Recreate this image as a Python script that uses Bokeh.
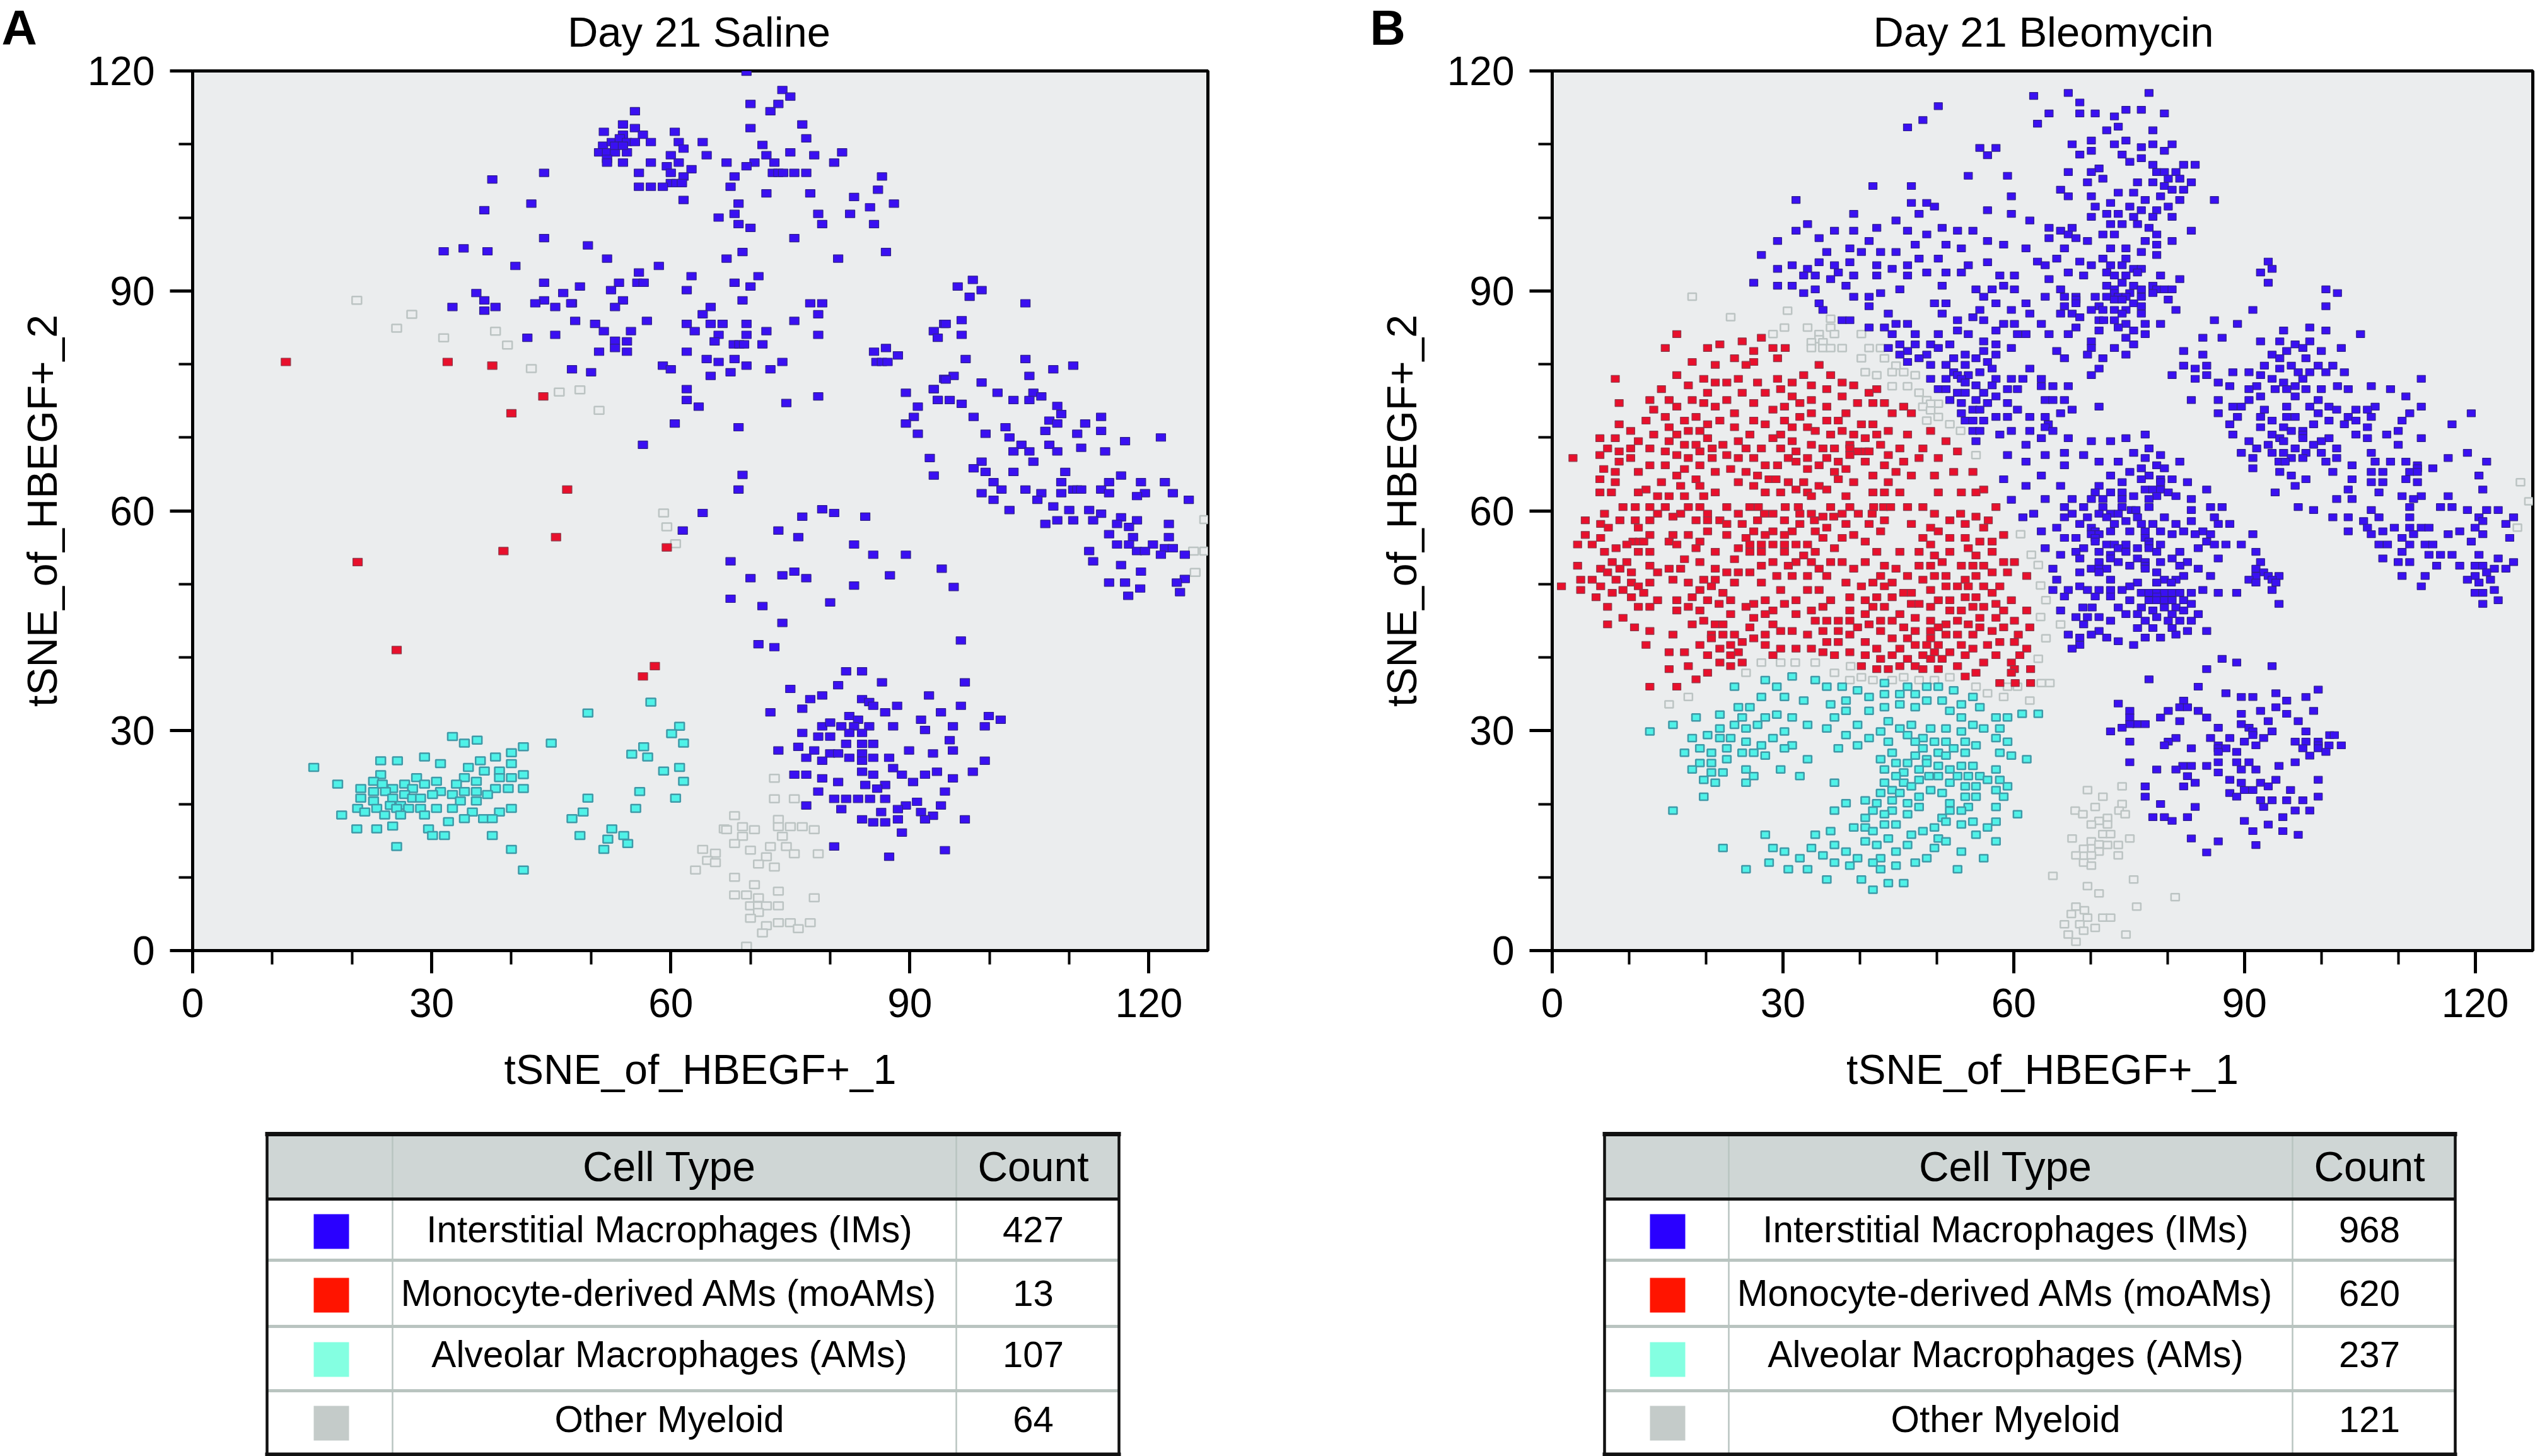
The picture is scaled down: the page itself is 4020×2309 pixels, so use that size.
from bokeh.embed import file_html
from bokeh.resources import INLINE
from bokeh.plotting import figure
from bokeh.layouts import column, row
from bokeh.models import Range1d, FixedTicker
from bokeh.core.properties import value

TITLE_A = "Day 21 Saline"
TITLE_B = "Day 21 Bleomycin"
XLABEL = "tSNE_of_HBEGF+_1"
YLABEL = "tSNE_of_HBEGF+_2"
HEADERS = ["Cell Type", "Count"]
CELL_TYPES = ["Interstitial Macrophages (IMs)", "Monocyte-derived AMs (moAMs)", "Alveolar Macrophages (AMs)", "Other Myeloid"]
COUNTS_A = [427, 13, 107, 64]
COUNTS_B = [968, 620, 237, 121]
MAJOR = [0, 30, 60, 90, 120]
MINOR = [10, 20, 40, 50, 70, 80, 100, 110]

# Panel A: (tSNE_1, tSNE_2) pairs
A_IM = [(69.5,119.9),(74,117.4),(75,116.5),(70,115.5),(73.5,115.5),(72.5,114.5),(55.5,114.5),(54,112.7),(55.5,112.2),(51.6,111.7),(70,112.2),(76.5,112.7),(60.5,111.7),(54,111.3),(56.5,111.3),(77,110.8),(57.5,110.3),(61,110.3),(64,110.3),(61.6,109.4),(71.5,109.9),(81.5,108.9),(75,108.9),(64.5,108.5),(72,108.5),(78,108.5),(60,108.5),(80.5,107.5),(57.5,107.5),(54,107.5),(61,107.5),(67,107.5),(70.5,107.5),(73,107.5),(69.5,107),(59.5,107),(62.6,106.6),(60,106.1),(56,106.1),(72.8,106.1),(73.5,106.1),(74.1,106.1),(75.5,106.1),(77,106.1),(68,105.6),(61.6,105.6),(86.5,105.6),(60,104.7),(60.7,104.7),(61.4,104.7),(56,104.2),(57.5,104.2),(59,104.2),(67.5,104.2),(86,103.8),(72,103.3),(77.5,103.3),(83,102.8),(61.6,102.4),(68.5,101.9),(88,101.9),(85,101.4),(68,100.5),(78.5,100.5),(82.5,100.5),(66,100),(68.5,99.1),(79,99.1),(85.5,99.1),(70,98.6),(75.5,97.2),(49.6,96.2),(69,95.3),(87,95.3),(52,94.4),(67,94.4),(81,94.4),(58.5,93.4),(56,92.5),(62.6,92),(71,92),(53.5,91.1),(55.8,91.1),(56.6,91.1),(68,91.1),(48.6,90.6),(70,90.6),(52.5,90.1),(62,90.1),(54,88.7),(69,88.7),(47.6,88.3),(77.5,88.3),(79,88.3),(65,87.8),(53,87.8),(64,86.8),(78.5,86.8),(48,85.9),(57,85.9),(75.5,85.9),(50.5,85.5),(62,85.5),(65,85.5),(66.5,85.5),(69.5,85.5),(94.3,85.5),(51.6,84.5),(55,84.5),(63,84.5),(66,84),(69.5,84),(72,84.5),(78.5,84),(93,84.5),(93.5,83.6),(53,83.2),(53,82.2),(54.5,83.1),(65.5,83.1),(67.9,82.7),(68.6,82.7),(69.2,82.7),(71.5,82.7),(51,81.7),(54.5,81.7),(62,81.7),(85.5,81.7),(87,82.2),(88.5,81.2),(64.5,80.7),(68,80.7),(66,80.3),(74,80.3),(69.5,79.8),(85.8,80.3),(86.5,80.3),(87.2,80.3),(59,79.8),(60,79.3),(47.6,79.3),(50,78.9),(72.5,79.3),(67.5,78.9),(65,78.4),(62,76.6),(78.5,75.6),(89.5,76.1),(93,76.6),(94.3,78),(62,75.1),(74.5,74.7),(63.5,74.2),(93.5,75.1),(91,74.2),(90.5,72.8),(60.5,71.9),(89.5,71.9),(68.5,71.4),(91,70.5),
(51.5,109.8),(52.6,110.3),(53.6,110.8),(54.5,110.3),(55.5,110.3),(51,108.9),(52,108.9),(53,108.9),(54.5,108.9),(53,109.8),(54,109.8),(52,108),(52,107.5),
(44.1,106.1),(37.6,105.2),(42.5,101.9),(36.6,101),(44.1,97.2),(31.5,95.4),(34,95.8),(37,95.4),(40.5,93.4),(44.1,91.1),(35.6,89.7),(46.5,89.7),(44.1,88.7),(36.6,88.7),(43,88.3),(32.6,87.8),(38,87.8),(45.5,87.8),(47.5,88.3),(36.6,87.3),(42,83.6),(45.5,84),
(97.9,91.5),(96,90.6),(99,90.1),(97.5,89.2),(104.5,88.3),(96.5,86),(94.5,85.5),(96.5,84),(97,80.7),(104.5,80.7),(108,79.3),(110.5,79.8),(95.5,78.4),(94.5,77.9),(105,78.4),(99,77.5),(93,76.6),(101,76.1),(105.5,76.1),(106.5,75.6),(105,75.1),(93.5,75.1),(95,75.1),(96.5,74.6),(103,75.1),(108.5,74.3),(109,73.2),(98,72.8),(114,72.8),(107.5,72.3),(108.5,71.9),(112,71.9),(102,71.4),(107,70.9),(114,70.9),(99.5,70.5),(111,70.5),(102.5,70),(117,69.5),(121.5,70),(104,69),(107.5,69),(103,68.1),(105,68.1),(108.5,68.1),(111.5,68.6),(114.5,68.1),(92.5,67.2),(99,66.7),(105.5,66.7),(98,65.8),(99.5,65.3),(103,65.3),(109.5,65.3),(93,64.8),(116.5,64.8),(100.5,63.9),(109,63.9),(115,63.9),(119,63.9),(122,63.9),(101.5,62.9),(104.5,62.9),(110.5,62.9),(111,62.9),(111.5,62.9),(114,62.9),(99,62.4),(106.5,62.4),(109,62.4),(115,62.4),(119.5,62.4),(123,62.4),(118.5,62),(100.5,61.5),(106,61.5),(125,61.5),(108,60.6),(110,60.1),(112.5,60.1),(102.5,60.1),(114,59.6),(116.5,59.1),(108.5,58.7),(110.5,58.7),(113,58.7),(118.5,58.7),(107,58.2),(116,58.2),(122.5,58.2),(117.5,57.8),(115,56.8),(118,56.4),(122.5,56.4),(116,55.4),(117.5,55.4),(120.5,55.4),(122,54.9),(123,54.9),(118.5,54.5),(119.5,54.5),(112.5,54.5),(121.5,54),(124.5,54),(89.5,54),(113,53.1),(116.5,52.6),(94,52.1),(119,51.7),(87.5,51.2),(124.5,50.7),(123.5,50.2),(115,50.2),(117,50.2),(95.5,49.6),(118.9,49.4),(117.4,48.4),(123.9,48.9),
(56.5,69),(69,64.9),(68.5,62.9),(64,59.7),(61.5,57.3),(79,60.2),(80.5,59.7),(76.5,59.2),(84.4,59.2),(73.5,57.3),(76,56.4),(83,55.4),(85.4,54),(67.5,53.1),(70,50.8),(74,51.2),(75.5,51.7),(77,50.8),(83,49.8),(67.5,48),(80,47.5),(71.5,47),(74,44.7),(71,41.8),(73,41.4),(96.4,42.3),
(82,38.1),(84,38.1),(81,36.2),(86.5,36.6),(75,35.7),(96.9,36.6),(77.5,34.3),(79,34.8),(84,34.3),(84.9,33.9),(85.4,33.4),(88.4,33.4),(92.4,34.8),(96.4,33.4),(76.5,33),(72.5,32.5),(86.9,32.5),(93.9,32.5),(82.4,32),(83.5,31.5),(91.4,31.5),(99.9,32),(101.4,31.5),(79,30.6),(80,31.1),(81.4,30.6),(83,30.6),(84.9,30.6),(87.9,30.6),(95.4,30.6),(99.4,30.6),(91.9,30.1),(76.5,29.7),(78.5,29.2),(80,29.2),(82.4,29.7),(84,29.7),(95,28.7),(82,28.2),(84,28.2),(85.4,28.2),(76,27.8),(78,27.3),(73.5,27.3),(89.9,27.3),(95.4,27.3),(92.9,26.9),(80,26.9),(81,26.9),(84,26.9),(77,26.3),(82.4,26.3),(85.4,26.3),(87.4,26.3),(84,25.9),(79,25.9),(99.4,25.9),(87.9,24.9),(84,24.4),(93.4,24.4),(97.9,24.4),(75.5,24),(77,24),(85.4,24),(89,24),(91.9,24),(79,23.5),(95.4,23.5),(81,23),(90.4,23),(84.4,22.6),(86.9,22.6),(85.9,22.1),(78.5,21.7),(94.4,21.7),(80.5,20.7),(82,20.7),(83.5,20.7),(85,20.7),(86.9,20.7),(90.9,20.3),(89.5,19.8),(93.9,19.8),(77,19.8),(88.5,19.3),(81.4,19.3),(86.4,18.9),(91.4,18.9),(92.9,18.4),(84,17.9),(88.5,17.9),(91.9,17.9),(96.9,17.9),(85.4,17.5),(86.9,17.5),(89,16.1),(80.5,14.2),(94.4,13.7),(87.4,12.8)]
A_MO = [(11.7,80.3),(32,80.3),(37.6,79.8),(44,75.6),(40,73.3),(47,62.9),(20.7,53),(25.6,41),(39,54.5),(45.6,56.4),(59.5,55),(58,38.8),(56.5,37.4)]
A_AM = [(57.5,33.9),(49.6,32.4),(61.1,30.6),(60.1,29.6),(61.6,28.3),(56.6,27.8),(55.1,26.8),(57.1,26.4),(59.1,24.5),(61.1,25),(61.6,23.1),(56.1,21.7),(49.6,20.8),(60.6,20.8),(55.6,19.4),(49,18.9),(47.6,18),(52.6,16.6),(48.6,15.7),(54.1,15.7),(52.1,15.2),(54.6,14.6),(51.6,13.8),(32.6,29.2),(34.1,28.3),(35.7,28.7),(41.5,27.8),(45,28.3),(40,27),(15.2,25),(23.6,25.9),(25.7,25.9),(29.1,26.4),(31.1,25.5),(36.1,25.9),(38,26.4),(40,25.5),(34.6,25),(36.6,24.5),(38.5,24.5),(38.5,23.6),(41.5,24),(40,23.6),(23.6,24),(28.1,23.6),(34.1,23.6),(30.6,23.1),(35.6,23.1),(22.7,23.1),(18.2,22.7),(21.1,22.1),(23.8,22.7),(26.6,22.7),(29.1,22.7),(33.1,22.7),(25.1,22.1),(27.6,22.1),(24.2,21.7),(22.7,21.7),(38,22.1),(39.6,22.1),(41.5,22.1),(31.1,21.7),(34.1,21.7),(35.6,21.7),(30.1,21.3),(32.6,21.3),(37,21.3),(26.6,21.3),(21.1,20.8),(25.1,20.8),(27.6,20.8),(28.6,20.8),(22.7,20.4),(33.6,20.4),(35.6,20.4),(24.8,19.8),(26.1,19.8),(20.7,19.4),(23.1,19.4),(28.6,19.4),(30.6,19.4),(32.6,19.4),(40,19.4),(25.6,19.4),(27.1,19.4),(21.6,18.9),(35.1,18.9),(38.5,18.9),(18.7,18.5),(24.1,18.5),(26.1,18.5),(29.1,18.5),(34.1,18),(36.5,18),(37.6,18),(32.1,17.6),(25.1,17),(20.6,16.6),(23.1,16.6),(29.6,16.6),(30.1,15.7),(31.6,15.7),(37.6,15.7),(25.6,14.2),(40,13.8),(41.5,11)]
A_OT = [(20.6,88.7),(27.5,86.8),(25.6,84.9),(31.5,83.6),(38,84.5),(39.5,82.6),(42.5,79.4),(46,76.2),(48.6,76.5),(51,73.7),(59.1,59.7),(59.5,57.8),(60.6,55.5),(127,58.8),(125.8,51.6),(125.6,54.5),(127,54.5),(66.7,16.6),(64,13.8),(65.6,13.3),(64.6,12.3),(65.6,12),(63.1,11),(73,23.5),(73,20.7),(75.5,20.7),(68,18.4),(73.5,17.9),(73.5,16.9),(69,16.9),(67,16.5),(70.5,16.5),(75,16.9),(76.5,16.9),(78,16.5),(69,15.6),(74,15.6),(68,14.6),(70,13.7),(72.5,14.2),(74.5,14.2),(75.5,13.2),(78.5,13.2),(72,12.8),(71,11.8),(73,11.4),(68,10),(70.5,9),(73.5,8.1),(68,7.6),(69.5,7.6),(71,7.2),(78,7.2),(70,6.1),(71,6.1),(72,6.1),(73.5,6.1),(71,5.2),(70,4.4),(73.5,3.8),(75,3.8),(77.5,3.8),(72,3.4),(76,3),(71.5,2.4),(69.5,0.6)]

# Panel B: rows of [tSNE_2, tSNE_1, tSNE_1, ...]
B_IM_ROWS = [[115.2,50.2],[113.3,48.2],[112.3,46.2],[109.5,55.6,57.7],[108.5,56.6],[105.7,54.1,59.2],[104.3,41.7,46.7],[102.9,59.7],[102.4,31.7],[102,46.7,48.7],[101.5,49.7],[101,56.6],[100.5,39.2,47.7,59.7],[99.6,44.7],[99.1,33.2],[98.6,42.2,50.7],[98.2,31.7,36.7,39.2,46.2,52.7,54.7],[97.7,48.7],[97.2,34.7],[96.8,29.3,41.2,56.6],[96.3,47.2,51.2,58.7],[95.8,38.7,53.2],[95.3,35.7,40.2,42.7,44.7],[94.9,27.2],[94.4,47.7,50.2],[93.9,34.7,38.7,56.6],[93.5,31.2,36.7,42.2,46.2,54.1],[93,29.3,33.2,44.2],[92.5,37.2,48.7,51.2,53.2],[92.1,32.7,34.2,39.2,42.2,46.2,58.2,60.1],[91.6,36.2],[91.1,26.2],[90.7,29.3,31.2,38.2,50.7,58.7],[90.2,34.2,45.2,55.1,57.2,60.1],[89.7,32.7,42.7],[89.2,39.2,41.2,56.1],[88.3,34.7,49.7,51.2,57.7],[87.9,41.2],[87.4,35.2,55.6,59.7],[86.9,43.7,50.7],[86.4,54.7],[86,37.7,38.7,52.7,56.1],[85.5,44.7,46.2,58.7,60.1],[85,41.2,43.2],[84.6,52.7,57.7],[84.1,44.2,47.2,50.2,54.1,60.5],[83.1,56.1],[82.7,45.2,47.2,49.2,51.7,57.7],[82.2,43.7,50.2,59.7],[81.8,46.2,56.1],[81.3,45.2,48.7,53.7,57.7],[80.8,47.7,52.2,55.1],[80.3,46.2,56.6],[79.9,49.2,51.2,53.7],[79.4,57.2],[78.9,52.2,55.6],[78.5,52.7,54.1],[78,49.2,51.2,53.2,57.7,59.7],[77.5,53.7],[77.1,55.1,57.2],[76.6,50.2,51.2,59.2,60.5],[76.1,52.7,53.7,56.1],[75.6,57.7],[75.1,51.7,55.1],[74.7,53.2,56.6,59.2],[73.8,54.7,55.6,60.5],[73.3,53.2],[72.8,57.7,59.2],[72.3,53.7,54.7,56.1],[70.9,54.7,55.6,59.7],[70.4,58.2],[69.5,55.1],[67.6,59.2],[64.3,58.7],[61.5,59.7],
[117,67.1,77.6],[116.6,62.6],[115.7,68.6],[114.7,74.6,76.6],[114.2,64.6,68.6,70.6,79.6],[113.8,73.1],[112.8,63.1],[112.4,73.6],[111.9,72.1,78.1],[110.5,70.1,74.6],[110,67.6,73.1,78.1,80.6],[109.6,76.6],[109.1,70.1,79.6],[108.6,68.6,74.1],[108.1,76.6],[107.6,75.1],[107.2,78.1,82.1,83.6],[106.7,71.1],[106.2,67.1,70.1,78.6,79.6,81.1],[105.3,71.6,80.1,81.6],[104.8,69.6,76.1,78.1,83.1],[104.3,79.6],[103.8,66.1,80.6,82.1],[103.4,73.6,75.6],[102.9,67.1,70.1,79.1],[102.4,77.1,81.6,86.1],[102,72.6],[101.5,70.6,75.1,80.1],[101,76.6,78.6],[100.5,72.1,73.6],[100.1,70.1,75.6,78.1,80.6],[99.6,62.1],[99.1,72.6,74.1,76.1],[98.6,64.6,67.6,77.6],[98.2,66.1,83.1],[97.7,67.1,71.6,73.1,78.6],[97.2,64.6,68.1],[96.8,69.6,77.1,80.6],[96.3,78.6],[95.8,61.6,66.6,72.6,74.6],[95.3,76.6],[94.9,78.6],[94.4,65.6,71.6,74.6],[94,63.1,68.6,93.1],[93.5,64.1,70.1,72.6,74.1],[93,75.6,76.6,93.6],[92.5,67.1,72.1,76.1,92.1],[92.1,69.1,73.1,74.6,79.1],[91.6,64.6,81.6],[91.1,74.1,93.1],[90.7,72.1,75.6,78.1],[90.2,66.1,73.1,76.6,78.6,79.6,80.6,100.6],[89.7,75.1,73.1,78.1,102.1],[89.2,64.1,66.6,68.1,70.6,72.1,73.6,74.6,76.6],[88.8,73.1,74.1,80.1,68.1],[88.3,61.6,75.6,68.1],[87.9,66.6,71.1,76.6,100.6],[87.4,70.1,71.6,73.1,74.6,81.1,91.1],[86.9,62.1,66.1,67.6,74.1,76.6],[86.4,68.6],[86,71.1,71.7,73.1,86.1],[85.5,63.6,74.6,77.1,79.1,89.1],[85,68.1,73.6,98.5],[84.6,71.1,75.6,95.1,100.6],[84.1,61.6,64.6,67.1,77.1,105.1],[83.6,74.6,84.6,87.1],[83.1,70.1,92.1,94.6,98.5],[82.7,75.6,96.6],[82.2,70.1,73.1,97.6,102.6],[81.8,65.6,82.1,95.5,100],[81.3,69.6,74.6,84.6,93.6],[80.8,66.6,71.6,94.6,98],[79.8,82.1,85.1,92.6,96.1,99.6,101.5],[79.4,62.1,71.1,83.6,94.6],[78.9,88.5,90.6,97,98.5,100.6,103],[78.5,70.1,80.6,85.1,92.1],[78,61.2,63.6,83.6,93.6,97.6,113],[77.5,86.6,95.1],[77,63.6,65.1,67.1,88.1,91.6,96.6,102.1,106.5],[76.6,90.6,94,95.5,98,100,103.5,109],[75.6,92.1,96.6,111],[75.1,64.1,65.1,66.6,83.1,86.6,90.6,99.6],[74.2,71.1,88.5,89.6,95.5,98.5,101,107,113],[73.8,67.6,92.6,102,104.5,106],[73.3,66.1,86.6,99.6,111.5,119.5],[72.8,62.1,64.1,89.1,92.1,95.5,96.6,103.5,106.5],[72.3,93.6,101,104.5,110.5],[71.8,64.5,88.1,99,103,117],[71.4,92.1,95.1,64.1,106],[70.9,62.1,65.1,96.1,97.6,110],[70.4,77.1,88.5,93.6,104.5,108.5,97.6],[69.9,63.6,67.1,74.6,94.6,101,97.6,106,113],[69.5,70.1,72.6,90.6,95.1,100],[69,61.6,93.1,99,110],[68.5,77.6,91.6,96.6,102],[67.9,66.6,75.6,89.6,93.6,95.1,98,100,106.5,119],[67.6,64.1,69.1,79.1],[67.2,77.1,91.1,96.1,97.6,102,116.5],[66.7,61.6,71.1,73.6,81.6,94.5,95.3,100.6,107,109,111,121.5],[66.2,66.6,78.6,104,112.5],[65.8,79.6,91.1,76.6,112.5,114.5],[65.3,75.1,94.6,101.5,106.5,108,111.5,112.5],[64.8,63.6,72.6,96.1,77.6,120.5],[64.3,76.6,79.1,80.6,98,104,111],[63.9,74.1,82.6,79.1,106.5,108,112.5],[63.4,61.6,66.1,71.1,96.6],[62.9,77.1,78.1,79.1,85.1,103.5,121],[62.5,70.6,72.6,74.1,80.1,94,107.5],[62,75.6,78.6,81.1,110.5,113,116.5],[61.6,64.1,67.6,70.1,71.6,74.1,77.6,83.1,102,104,112],
[60.5,66.6,69.1,71.6,74.1,77.6,85.6,87.1,97,111.5,115.5,117],[60.1,75.3,75.9,83.1,99,106.5,119,121.5,123],[59.6,62.6,67.6,71.1,72.6,73.6],[59.1,61.2,66.6,69.6,72.1,76.1,79.6,86.1,101.5,103.5,107.5,111.5,120.5,125],[58.6,74.6,83.1,105.5,121],[58.2,68.6,73.1,76.6,78.1,81.1,86.6,88.1,124],[57.7,65.6,70.1,106,109.5,111.5,113,114,120],[57.2,63.6,70.6,72.6,75.1,77.1,79.1,82.1,84.6,103.5,108,118],[56.8,70.1,71.1,80.6,83.6,85.6,91.1,106.5,112,116.5,121],[56.3,66.6,68.1,70.6,77.1,110.5,124.5],[55.8,70.6,77.6,85.1,119.5],[55.4,72.1,73.1,74.6,77.6,79.1,86.1,87.6,89.6,107.5,108.6,111.5,113.5,114.5],[54.9,64.1,69.1,73.6,76.1,77.6,84],[54.4,68.1,71.1,74.6,78.6,81.6,91.5,110.5],[54,66.1,72.6,114,115.5,117,120.5],[53.5,68.6,72.6,76.1,80.6,86.6,108,123],[53,71.1,73.6,77.1,79.1,82.6,92.1,110,111.5,125],[52.5,75.1,77.1,81.6,115,118,120,121],[52.1,65.1,70.1,71.1,72.1,77.1,84,91.5,122.5,124],[51.6,68.6,71.1,78.6,92.5,121.5],[51.1,82.1,85.6,91.5,93.1,94.5,110.5,113.5,120],[50.6,65.6,72.6,79.6,81.1,90.6,93.6,119,122],[50.2,76.1,78.6,80.5,91.5,94.1,120.5],[49.7,68.6,75.1,113],[49.2,65.1,67.1,69.6,71.1,72.6,74.1,84.6,93.6,122.5],[48.8,76.6,77.6,78.6,79.6,80.6,81.6,83.1,86.6,89,120,121],[48.3,66.6,70.6,72.6,78.6],[47.8,75.1,77.6,78.6,79.6,80.6,82.1,123],[47.3,83.1,94.5,121],[46.8,69,70.2,73.6,76.6,79.6,81.1],[46.4,66.1,78.1,82.1],[45.9,74.6,76.1,80.6,84],[45.5,68.1,69.6,71.1,78.6],[45,72.6,77.1,80.1,81.6,83.1],[44.5,69.1],[44,76.1,78.1,80.6],[43.6,71.1,82.6,85.1],[43.1,67.1,70.1,81.1],[42.7,68.6,72.1,77.1,79.1],[42.2,73.6],[41.7,68.6,75.6],[41.2,67.6],
[39.8,87.1],[39.3,89],[38.8,93.6],[38.4,85.1],[37,77.6],[36,84],[35.6,99.6],[35.1,87.6,94.1],[34.6,89.6,91.1,98],[34.1,82.1,95.5],[33.7,73.6],[33.2,81.6,82.6,94.1],[32.7,75.1,80.1,84,92.1,99],[32.3,89.6,95.5],[31.8,75.1,79.1,85.1],[31.3,81.6,93.1,97],[30.9,76,77.1,75.1,89.6],[30.4,74.1,86.6,90.6],[29.9,72.6,93.6,98,91.1],[29.4,101.1,101.7,91.1],[29,81.1,85.6,88.1,92.5],[28.5,75.1,80.1,90,96.6,98,99.6],[28,79.6,86.6,91.5,102.6,99.6,101],[27.6,83.1,86.6,87.6,97.6,99.6],[27.1,86.6,89,100.6],[26.6,98.5],[25.7,75.1,86.6,89,90.6,96.6],[25.2,82,83.1,85.1,94.5],[24.7,78.6,81.1,89.6,91.5],[24.3,86.6],[23.8,82.6],[23.3,88.1,94.1,99.6],[22.9,83.6,89.6,92.1],[22.4,77.1,82.1,93.1],[21.9,90,91.1,96],[21.5,88.1],[21,77.1,89,99.6],[20.5,92.1,93.6,95.5,97.6],[20,79.1],[19.6,83.6,92.5],[19.1,96.6,98.5],[18.2,78.1,79.6,82.6,95],[17.7,80.6,90],[17.2,93.1],[16.3,91.1,95],[15.8,97],[15.3,83.1],[14.9,86.6],[14.4,91.5],[13.4,85.1]]
B_MO_ROWS = [[84.1,16.2],[83.6,27.2],[83.1,24.7],[82.7,21.8],[82.2,14.7,20.2,28.7,30.3],[81.8,26.2],[80.8,23.7,29.3],[80.3,18.2,26.2],[79.9,21.2,25.2,34.7],[78.5,16.2,32.7,36.2],[78,8.2,19.7,24.2,29.3],[77.5,21.2,22.7,26.7,31.2,37.7],[77.1,17.7,33.7,39.2],[76.6,14.2,29.7,35.7,42.2],[76.1,20.2,24.7,27.7,41.2],[75.6,31.2,37.7],[75.1,12.7,15.2,18.2,22.7,33.7],[74.7,8.7,19.7,26.2,32.2,39.7,41.7,43.2],[74.2,16.2,21.2,30.2,35.7,45.7],[73.8,13.2,28.7],[73.3,23.7,33.7,38.2,44.2,46.7],[72.8,14.7,18.7,32.2],[72.3,12.2,17.2,21.8,26.2,30.2,35.7,37.2],[71.8,8.7,20.2,27.7,40.2,41.7],[71.4,15.2,23.7,31.2,33.2],[70.9,10.2,17.7,19.2,34.2,37.7,43.7,49.2],[70.4,13.2,16.2,25.7,29.7,36.2,39.2,42.2,46.2],[69.9,6.2,8.2,20.2,28.7,40.7],[69.5,11.2,15.2,24.2,31.2,51.2],[69,17.2,18.7,22.2,33.7,38.7,42.7],[68.5,7.2,10.2,12.7,20.8,25.2,27.2,29.7,35.2,36.7,38.7,45.2,48.2],[68.1,8.7,14.7,19.2,31.7,39.7,40.7,41.2,52.7],[67.6,6.2,16.2,22.7,38.7,43.7],[67.2,2.7,10.2,17.7,20.8,24.2,26.2,30.7,33.2,35.7,47.7,50.2],[66.7,8.7,31.7,37.2,40.7,45.7],[66.2,12.7,14.7,19.2,27.7,29.3,34.7,43.2],[65.7,6.7,17.2,23.2,33.2,38.2],[65.3,8.2,11.2,21.2,25.2,36.7,44.7,52.2,54.7],[64.8,16.2,26.7,41.7,46.7,49.7],[64.3,6.2,18.7,28.2,29.1,37.2],[63.9,8.2,14.2,24.2,30.7,32.7,39.2,43.7],[63.4,16.7,19.2,26.2,34.7],[62.9,12.2,31.7,35.7,56.1],[62.5,6.2,7.7,11.2,21.2,27.7,29.7,33.2,41.7,43.2,45.2,50.2,53.2,55.1],[62,13.7,15.2,17.2,19.7,33.7,38.2],
[60.5,9.2,10.8,12.7,14.7,17.7,19.2,22.7,25.7,26.8,30.3,32,36.2,38.7,41.8,43.1,44,46.2,48.2,57.7],[59.6,6.8,13.7,16.7,20.2,24.2,27.6,28.7,32.2,33.7,37.7,39.8,41.6,49.7,53.1],[59.2,15.7,35.2,36.6,55.1],[58.7,4.3,8.8,10.8,12.7,18.7,20.2,21.8,26.7,30.2,34.1,43.2,51.7,56.7],[58.2,6.3,22.7,24.7,32.2,38.2,41.2,46.7,53.7],[57.7,7.3,11.2,35.7,49.2,56.1],[57.2,20.2,26.2,28.7,31.2,34.2,42.7,50.2],[56.7,4.3,12.7,15.7,17.7,22.7,27.7,30.2,39.2,58.7],[56.3,6.3,25.2,35.2,37.7,48.2,51.7,53.7],[55.8,10.5,11.3,11.9,15.2,19.2,40.7,55.6,57.2],[55.4,3.3,5.2,9.7,16.2,25.7,27.2,28.7,30.2,31.7,33.2,49.2],[54.9,8.3,18.7,24.2,36.7,54.1],[54.4,6.8,11.2,12.7,21.2,25.7,27.2,30.2,34.2,42.2,45.2,47.7,51.7,57.2],[53.9,32.7,49.7,55.1],[53.4,17.2,23.7],[53,7.8,9.7,19.2,28.7,31.7,33.7,36.2,37.7,40.7,50.7,58.7,60.1],[52.5,3.3,12.7,27.2,30.7,43.2,47.7,49.2,53.2,54.7,56.1],[52.1,6.3,8.8,15.2,16.7,21.2,34.7,39.2,44.7],[51.6,7.2,10.3,13.7,22.7,24.2,25.7,57.2,59.2],[51.1,29.2,31.2,33.2,35.7,42.7,46.2,49.7,51.2,55.1,61.7],[50.6,3.7,5.2,8.3,15.7,19.7,21.2,48.2,53.7],[50.2,10.3,12.7,17.7,23.7,27.2,38.2,41.7,44.2],[49.7,1.2,6.3,11.2,20.7,40.2,43.2,51.2,52.7,54.1,56.1,58.2],[49.2,3.7,9.2,19.2,29.7,33.2,34.7,49.2],[48.8,7.8,11.9,22.2,45.7,46.7,57.2],[48.2,5.7,10.3,18.2,38.7,42.2,44.2,53.7,55.1],[47.8,13.7,16.2,20.2,23.2,27.7,31.7,36.2,40.7,50.2,51.7,59.7],[47.3,21.7,26.2,30.2,46.7,47.7,57.7],[46.9,7.2,11.2,12.7,17.7,25.2,35.2,41.7,43.2,49.2,54.7,56.1],[46.4,16.2,19.2,28.7,33.7,38.7,51.7,53.2,58.7,61.7],[45.9,23.2,27.7,31.7,40.7,45.2],[45.4,9.2,26.2,47.2,55.6,57.7],[45,19.7,34.2,35.7,37.2,38.7,42.7,44.2,49.2,52.7,60.1],[44.5,7.2,18.2,21.2,22.2,28.7,41.2,51.2,54.1],[44.1,10.7,25.7,39.7,45.7,50.2,55.6,58.7,62.1],[43.6,12.7,29.7,31.2,35.2,37.2,42.7,47.2,49.2,57.2],[43.1,15.7,20.7,22.2,23.7,27.7,33.2,38.7,51.2,52.7,54.7,60.6],[42.6,20.7,26.2,44.2,46.2,49.2],[42.1,24.7,35.7,37.2,40.7,58.2,60.1],[41.7,12.2,19.2,23.2,27.7,47.2,48.7,50.2,53.2,56.6],[41.2,21.8,29.7,31.7,33.7,42.2,45.2,54.7,61.7],[40.7,15.2,17.2,24.2,35.2,38.7,49.7,51.7],[40.3,20.2,23.2,28.7,36.7,40.7,44.2,48.2,53.7,57.7,60.8],[39.8,42.7,46.2,49.2,50.7],[39.3,21.8,24.7,56.1,59.7],[38.8,17.7,23.2,40.2,45.2,47.2,52.7],[38.4,15.2,42.2,43.7,48.2,50.2,60.1,62.2],[37.9,20.2,55.1,59.7],[37.4,53.7],[37,18.7],[36.5,58.2,60.2,62.2],[36,12.7,16.2]]
B_AM_ROWS = [[37.4,31.2],[36.9,27.7,34.2],[36.5,43.2],[36,23.7,29.2,35.7,37.7,46.2,48.7,50.2],[35.5,39.7,52.2],[35,43.2,45.2,47.2],[34.6,27.2,30.2,41.2,54.7],[34.1,32.7,38.2,48.7,50.7],[33.6,36.2,45.2,53.2],[33.2,24.2,25.7,43.2,47.2,55.6],[32.7,38.2,41.2,51.7],[32.3,61.1,63.2],[32.2,21.8,29.2],[31.8,18.7,24.7,27.7,31.2,36.7,53.2,57.7,59.2],[31.3,43.7],[30.8,15.7,23.7,26.7,33.2,39.7,46.7,54.7],[30.3,21.8,25.2,35.7,45.2,49.2,51.2,56.1,58.2],[29.9,12.7,30.2,42.7,53.2],[29.4,20.2,38.2,46.2],[29,18.2,21.8,23.2,28.7,41.2,48.2,57.7],[28.5,25.2,47.2,43.7,49.7,51.2,53.7,59.2],[28,27.2,31.2,39.7,55.1],[27.6,19.2,22.7,30.2,37.2,48.2,52.2],[27,17.2,20.7,24.7,26.2,44.2,50.2,53.7,58.2],[26.6,27.7,47.2,51.2,59.7],[26.1,22.7,33.2,42.7,48.7,61.7],[25.6,19.2,20.7,44.7,46.2,48.7],[25.2,50.2,53.2,54.7],[24.7,18.2,25.2,29.7,43.2,47.7,51.7,57.7],[24.3,20.7,22.2,45.7],[23.8,26.2,32.2,44.7,49,50.2,52.7,54.1,55.6],[23.3,19.7,47.7,56.6,58.2],[22.9,21.2,25.2,36.7,43.2,45.7,51.7],[22.4,46.7,53.7,55.1,59.2],[21.9,44.2,49.2,57.7],[21.5,42.7,45.2,50.7],[21,19.7,47.7,53.7,55.1,58.7],[20.5,40.7,44.2],[20.1,38.2,42.2,46.2,51.7],[19.6,47.7,54.1,57.7],[19.1,15.7,36.7,41.7,44.2,51.7,53.2],[18.6,43.2,46.2,60.5],[18.1,40.7,50.7],[17.6,54.7,57.7,51.2],[17.2,43.2,44.7,53.2],[16.8,39.2,40.7,49.7,56.6],[16.3,36.2,41.7,48.2],[15.8,27.7,34.2,46.7,55.1],[15.3,43.7,50.2],[14.9,40.7,51.2,57.7],[14.4,36.7,42.2,46.2],[14,22.2,28.7,33.7,49.7],[13.5,30.2,38.2,44.7,53.2],[13,35.2],[12.6,32.2,39.7,42.7,48.7,56.1],[12,28.2,36.7,41.7,47.2],[11.6,38.7,44.7],[11.1,25.2,30.7,33.2,42.7,52.7],[9.7,35.7,40.2],[9.2,43.7,45.7],[8.3,41.7]]
B_OT_ROWS = [[89.2,18.2],[87.3,30.6],[86.4,23.2],[86.2,36.2],[85,30.2,33.2,36.2],[84.1,34.7,36.7,28.7,40.2],[83.4,34.7],[83,33.7,35.2],[82.2,33.7,35.2,36.2,37.7,41.2,42.7],[80.8,40.2,43.2],[79.8,44.7],[78.9,40.7,44.2,45.7],[78.5,42.2,47.2],[77,44.2,46.2],[76.1,47.7],[75.1,48.7],[74.6,50.2,49.2],[74.2,48.2],[73.7,49.2],[72.8,50.2],[72.3,48.7],[71.8,51.7],[70.9,53.1],[67.6,55.1],[63.9,125.9],[61.3,127],[57.7,125.5],[56.8,60.9],[54,62.3],[52.6,63.2],[49.8,63.5],[47.8,64.2],[45.5,63.5],[44.5,66.1],[42.6,64.2],[39.8,63.2],[39.3,27.2,29.7,31.6,34.2],[38.8,38.8],[37.9,25.2,36.7],[37.3,40.2,45.7,51.7],[36.9,38.7,41.7,44.2,47.7,49.7],[36.5,63.6,64.7],[36,55.1,59.2,60.5],[35.1,56.6],[34.6,17.7,58.7],[34.1,62.1],[33.6,15.2],[22.4,74.1],[21.9,69.6],[21,71.6],[20,74.1],[19.6,70.6],[19.1,68,73.7],[18.6,69,74.5],[18.1,72.2],[17.7,71.1],[17.2,70.1,72.2],[15.9,71.6,72.6],[15.3,67.6,75.1],[14.9,70.1],[14.5,71.1],[14.4,72.2,73.6],[13.9,69.1],[13.5,71.1],[13,68.1,70.1,73.6],[12,69.1],[11.6,70.1],[10.2,65.1],[9.7,75.6],[8.8,69.6],[7.8,71.1],[7.3,81],[6,76,68.1],[5.5,69.2],[5,67.5],[4.5,69.6,71.6,72.6],[3.6,66.6,68.6],[3.1,70.6],[2.7,69.1],[2.2,67.1,74.6],[1.2,68.1]]

BLUE, RED, CYAN, GREY_LINE, BG = "#3a10f2", "#e8102c", "#4ff2e8", "#bcc4c3", "#ebedee"
SW = ["#2a00ff", "#ff1400", "#84ffe1", "#c4cbc9"]
FONT = "Liberation Sans"


def pairs(rows):
    xs, ys = [], []
    for r in rows:
        for x in r[1:]:
            xs.append(x)
            ys.append(r[0])
    return xs, ys


def panel(width, left, right, xmax, series, w, h):
    p = figure(width=width, height=1692, x_range=Range1d(0, xmax), y_range=Range1d(0, 120),
               output_backend="svg", toolbar_location=None,
               min_border_left=left, min_border_right=right, min_border_top=24, min_border_bottom=273,
               background_fill_color=BG, border_fill_color="white", outline_line_color="black", outline_line_width=5)
    p.grid.visible = False
    for ax in (p.xaxis[0], p.yaxis[0]):
        ax.ticker = FixedTicker(ticks=MAJOR, minor_ticks=MINOR)
        ax.major_tick_out, ax.major_tick_in = 36, 0
        ax.minor_tick_out, ax.minor_tick_in = 22, 0
        ax.axis_line_width, ax.major_tick_line_width, ax.minor_tick_line_width = 5, 5, 4
        ax.major_label_text_font = FONT
        ax.major_label_text_font_size = "64px"
        ax.major_label_text_color = "black"
        ax.axis_label_text_font = FONT
        ax.axis_label_text_font_size = "66px"
        ax.axis_label_text_font_style = "normal"
        ax.axis_label_text_color = "black"
    p.xaxis[0].axis_label = XLABEL
    p.yaxis[0].axis_label = YLABEL
    p.xaxis[0].major_label_standoff = 24
    p.yaxis[0].major_label_standoff = 24
    p.xaxis[0].axis_label_standoff = 43
    p.yaxis[0].axis_label_standoff = 32
    p.yaxis[0].major_label_orientation = "horizontal"
    ot, am, mo, im = series
    opts = dict(width=w, height=h, width_units="screen", height_units="screen")
    p.rect(ot[0], ot[1], fill_color=BG, line_color=GREY_LINE, line_width=2.5, **opts)
    p.rect(am[0], am[1], fill_color=CYAN, line_color="#3f9aa8", line_width=2.5, **opts)
    p.rect(mo[0], mo[1], fill_color=RED, line_color="#8a3a4a", line_width=1.2, **opts)
    p.rect(im[0], im[1], fill_color=BLUE, line_color="#30208a", line_width=1.2, **opts)
    return p


def unzip(lst):
    return [a for a, _ in lst], [b for _, b in lst]


pa = panel(2050, 305, 135, 127.4, (unzip(A_OT), unzip(A_AM), unzip(A_MO), unzip(A_IM)), 15, 12)
pb = panel(1970, 411, 4, 127.5, (pairs(B_OT_ROWS), pairs(B_AM_ROWS), pairs(B_MO_ROWS), pairs(B_IM_ROWS)), 13, 11)

# strip above the panels: panel letters and titles
head = figure(width=4020, height=88, x_range=Range1d(0, 4020), y_range=Range1d(88, 0), output_backend="svg",
              toolbar_location=None, min_border=0, outline_line_color=None, x_axis_type=None, y_axis_type=None)
head.grid.visible = False
head.text(x=[1108, 3240], y=[50, 50], text=[TITLE_A, TITLE_B], text_font=value(FONT), text_font_size="67px",
          text_color="black", text_align="center", text_baseline="alphabetic")
head.text(x=[2, 2172], y=[43, 43], text=["A", "B"], text_font=value(FONT), text_font_size="78px",
          text_font_style="bold", text_color="black", text_align="left", text_baseline="alphabetic")

t = figure(width=4020, height=529, x_range=Range1d(0, 4020), y_range=Range1d(2309, 1780), output_backend="svg",
           toolbar_location=None, min_border=0, outline_line_color=None, x_axis_type=None, y_axis_type=None)
t.grid.visible = False


def table(left, c1, c2, right, sw_l, sw_r, cx, nx, counts):
    top, hb, bottom = 1799, 1901, 2306
    seps = [1998, 2103, 2205]
    sw_t = [1925, 2026, 2128, 2229]
    base = [1949, 2050, 2147, 2250]
    t.quad(left=[left], right=[right], top=[top], bottom=[hb], fill_color="#cfd6d5", line_color=None)
    t.segment(x0=[left] * 3, x1=[right] * 3, y0=seps, y1=seps, line_color="#b9c4c0", line_width=5)
    t.segment(x0=[c1, c2], x1=[c1, c2], y0=[top, top], y1=[bottom, bottom], line_color="#b9c4c0", line_width=2.5)
    t.segment(x0=[left], x1=[right], y0=[hb], y1=[hb], line_color="#111111", line_width=5)
    t.segment(x0=[left - 3], x1=[right + 3], y0=[top - 1], y1=[top - 1], line_color="#111111", line_width=7)
    t.segment(x0=[left - 3], x1=[right + 3], y0=[bottom], y1=[bottom], line_color="#111111", line_width=6)
    t.segment(x0=[left, right], x1=[left, right], y0=[top, top], y1=[bottom, bottom], line_color="#111111", line_width=4.5)
    t.quad(left=[sw_l] * 4, right=[sw_r] * 4, top=sw_t, bottom=[y + 55 for y in sw_t], fill_color=SW, line_color=None)
    common = dict(text_font=value(FONT), text_color="black", text_align="center", text_baseline="alphabetic")
    t.text(x=[cx, nx], y=[1849, 1849], text=HEADERS, text_font_size="66px", **common)
    t.text(x=[cx] * 4, y=base, text=CELL_TYPES, text_font_size="58.5px", **common)
    t.text(x=[nx] * 4, y=base, text=[str(c) for c in counts], text_font_size="58px", **common)


table(423, 622, 1516, 1774, 497, 553, 1061, 1638, COUNTS_A)
table(2544, 2741, 3635, 3893, 2616, 2672, 3180, 3757, COUNTS_B)

page = column(head, row(pa, pb, spacing=0), t, spacing=0)
open("out.html", "w").write(file_html(page, INLINE))
